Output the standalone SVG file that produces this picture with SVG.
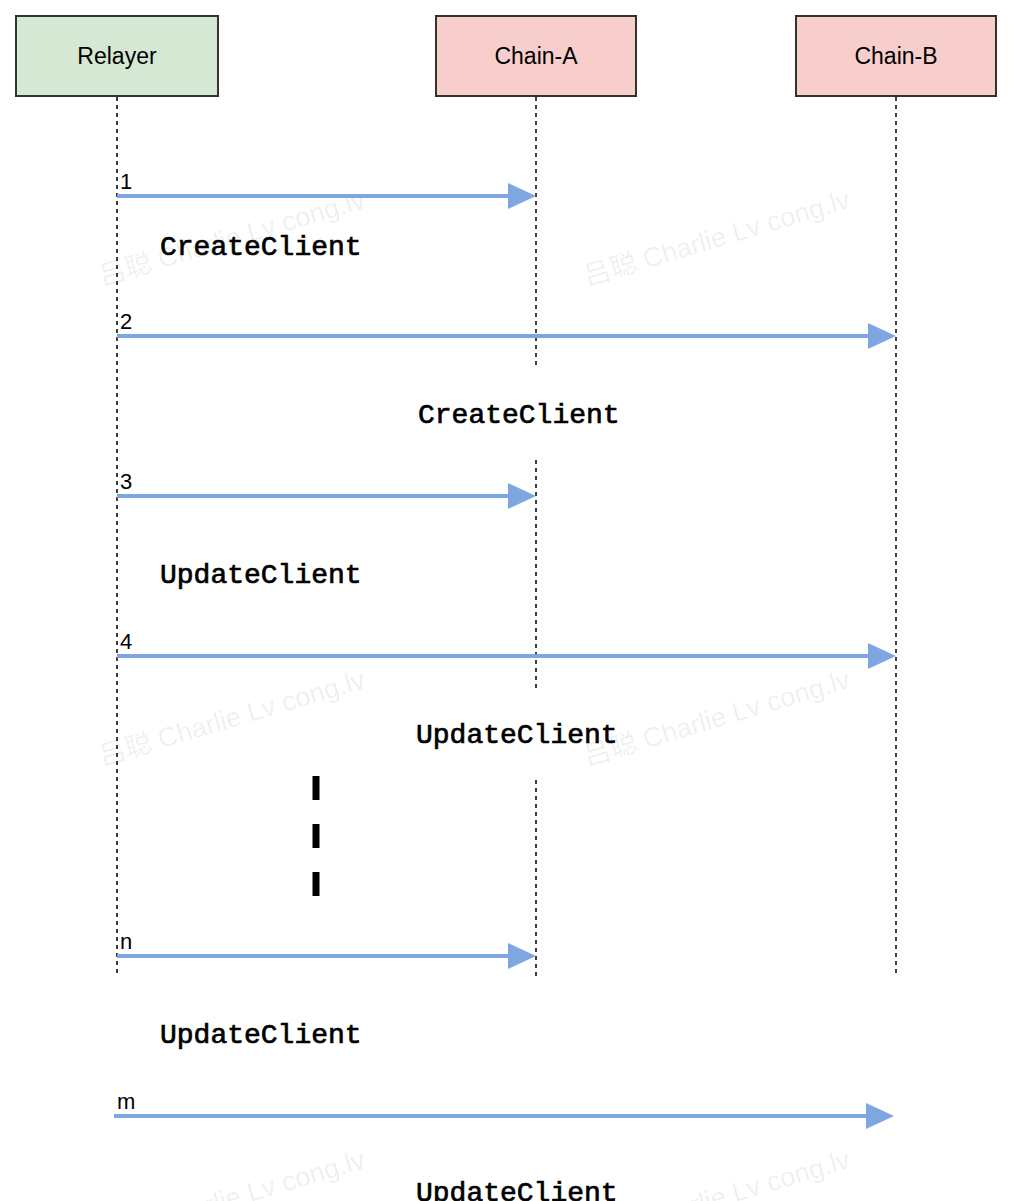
<svg xmlns="http://www.w3.org/2000/svg" width="1014" height="1201" viewBox="0 0 1014 1201">
<style>
.box{stroke:#333333;stroke-width:2}
.lbl{font-family:"Liberation Sans",Arial,sans-serif;font-size:23px;fill:#000;text-anchor:middle}
.life{stroke:#000;stroke-width:1.5;stroke-dasharray:4 4;fill:none}
.msg{stroke:#7ea6e0;stroke-width:4;fill:none}
.head{fill:#7ea6e0}
.num{font-family:"Liberation Sans",Arial,sans-serif;font-size:22px;fill:#000}
.code{font-family:"Liberation Mono","Courier New",monospace;font-size:28px;fill:#000;stroke:#000;stroke-width:0.7}
.wm{font-family:"Liberation Sans","Noto Sans CJK SC",sans-serif;font-size:27px;fill:#000;fill-opacity:0.07}
</style>
<rect width="1014" height="1201" fill="#ffffff"/>
<g id="watermarks">
<text class="wm" transform="translate(102,286) rotate(-16.5)">吕聪 Charlie Lv cong.lv</text>
<text class="wm" transform="translate(587,286) rotate(-16.5)">吕聪 Charlie Lv cong.lv</text>
<text class="wm" transform="translate(102,766) rotate(-16.5)">吕聪 Charlie Lv cong.lv</text>
<text class="wm" transform="translate(587,766) rotate(-16.5)">吕聪 Charlie Lv cong.lv</text>
<text class="wm" transform="translate(102,1246) rotate(-16.5)">吕聪 Charlie Lv cong.lv</text>
<text class="wm" transform="translate(587,1246) rotate(-16.5)">吕聪 Charlie Lv cong.lv</text>
</g>
<g id="relayer">
<rect class="box" x="16" y="16" width="202" height="80" fill="#d5e8d4"/>
<text class="lbl" x="117" y="64">Relayer</text>
</g>
<g id="chain-a">
<rect class="box" x="436" y="16" width="200" height="80" fill="#f8cecc"/>
<text class="lbl" x="536" y="64">Chain-A</text>
</g>
<g id="chain-b">
<rect class="box" x="796" y="16" width="200" height="80" fill="#f8cecc"/>
<text class="lbl" x="896" y="64">Chain-B</text>
</g>
<g id="lifelines">
<line class="life" x1="117" y1="97" x2="117" y2="976"/>
<line class="life" x1="536" y1="97" x2="536" y2="366"/>
<line class="life" x1="536" y1="460" x2="536" y2="690"/>
<line class="life" x1="536" y1="780" x2="536" y2="976"/>
<line class="life" x1="896" y1="97" x2="896" y2="976"/>
</g>
<g id="connectors">
<line class="msg" x1="117" y1="196" x2="510" y2="196"/>
<polygon class="head" points="508,183 536,196 508,209"/>
<line class="msg" x1="117" y1="336" x2="870" y2="336"/>
<polygon class="head" points="868,323 896,336 868,349"/>
<line class="msg" x1="117" y1="496" x2="510" y2="496"/>
<polygon class="head" points="508,483 536,496 508,509"/>
<line class="msg" x1="117" y1="656" x2="870" y2="656"/>
<polygon class="head" points="868,643 896,656 868,669"/>
<line class="msg" x1="117" y1="956" x2="510" y2="956"/>
<polygon class="head" points="508,943 536,956 508,969"/>
<line class="msg" x1="114" y1="1116" x2="868" y2="1116"/>
<polygon class="head" points="866,1103 894,1116 866,1129"/>
</g>
<g id="labels">
<text class="num" x="120" y="189">1</text>
<text class="num" x="120" y="329">2</text>
<text class="num" x="120" y="489">3</text>
<text class="num" x="120" y="649">4</text>
<text class="num" x="120" y="949">n</text>
<text class="num" x="117" y="1109">m</text>
<text class="code" x="160" y="255">CreateClient</text>
<text class="code" x="418" y="423">CreateClient</text>
<text class="code" x="160" y="583">UpdateClient</text>
<text class="code" x="416" y="743">UpdateClient</text>
<text class="code" x="160" y="1043">UpdateClient</text>
<text class="code" x="416" y="1201">UpdateClient</text>
</g>
<g id="ellipsis">
<rect x="312.5" y="776" width="7" height="24" fill="#000"/>
<rect x="312.5" y="824" width="7" height="24" fill="#000"/>
<rect x="312.5" y="872" width="7" height="24" fill="#000"/>
</g>
</svg>
